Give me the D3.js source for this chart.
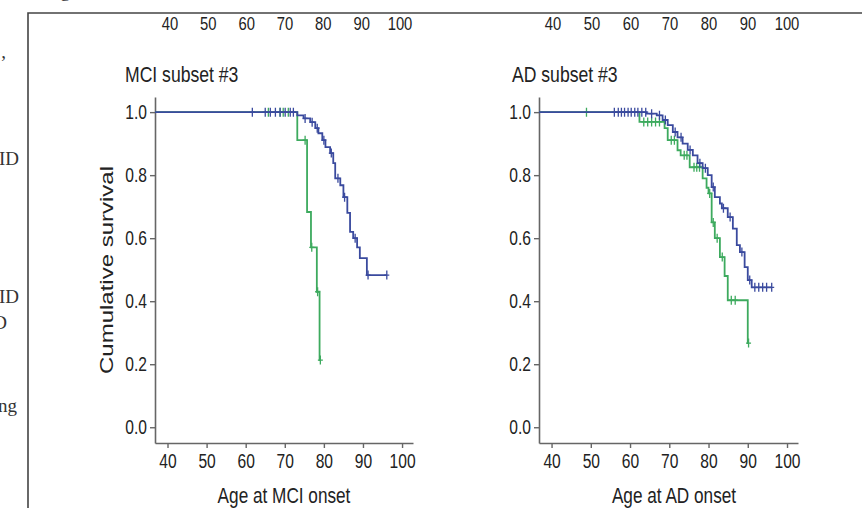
<!DOCTYPE html>
<html>
<head>
<meta charset="utf-8">
<script src="https://cdn.jsdelivr.net/npm/d3@7"></script>
<style>
  html, body { margin: 0; padding: 0; background: #fff; }
  svg { display: block; }
  text { font-family: "Liberation Sans", Arial, sans-serif; fill: #222; }
  .frag { font-family: "Liberation Serif", "Times New Roman", serif; fill: #333; }
</style>
</head>
<body>
<div id="chart"></div>
<script>
// Chart data
const ageTicks = [40, 50, 60, 70, 80, 90, 100];
const survTicks = [0.0, 0.2, 0.4, 0.6, 0.8, 1.0];

// MCI subset #3 : [age, survival after the drop]
const mciBlueDrops = [
  [73.2, 0.99], [74.8, 0.98], [76.5, 0.968], [77.8, 0.949], [78.6, 0.933],
  [79.6, 0.911], [80.4, 0.889], [81.6, 0.87], [82.4, 0.838], [82.9, 0.79],
  [84.2, 0.768], [85.0, 0.73], [86.0, 0.68], [86.7, 0.62], [87.5, 0.60],
  [88.5, 0.571], [89.2, 0.537], [91.0, 0.483]
];
const mciBlueEnd = 96.1;
const mciBlueCensored = [61.7, 65, 66.3, 67.6, 68.8, 70.1, 71.4, 72.2, 75.2, 77,
  78.3, 80, 81.9, 83.6, 85.3, 88, 91.3, 96.1];

const mciGreenDrops = [[73.2, 0.911], [75.7, 0.683], [76.7, 0.571], [78.2, 0.43], [78.9, 0.213]];
const mciGreenEnd = 79.2;
const mciGreenCensored = [65.8, 68.8, 69.6, 70.9, 75.2, 76.9, 78.4, 79.1];

// AD subset #3
const adBlueDrops = [
  [64.2, 0.995], [66.8, 0.99], [68.3, 0.975], [69.6, 0.959], [70.9, 0.937],
  [72.1, 0.92], [73.4, 0.90], [74.7, 0.88], [76.0, 0.863], [77.2, 0.838],
  [78.5, 0.822], [79.8, 0.80], [80.8, 0.762], [81.6, 0.73], [82.9, 0.71],
  [83.4, 0.695], [84.9, 0.667], [86.2, 0.63], [87.2, 0.578], [88.0, 0.556],
  [89.2, 0.508], [90.0, 0.467], [91.0, 0.444]
];
const adBlueEnd = 96.1;
const adBlueCensored = [56, 57, 57.8, 58.6, 59.5, 60.3, 61.2, 62, 63, 64, 65.5,
  67.5, 69, 71.5, 73, 75.3, 77.8, 79.2, 81.2, 83.8, 85.5, 88.5, 90.5, 91.8,
  92.8, 93.8, 94.8, 96.1];

const adGreenDrops = [
  [62.4, 0.969], [68.8, 0.949], [69.6, 0.911], [72.1, 0.879], [72.9, 0.863],
  [75.2, 0.825], [78.5, 0.79], [79.5, 0.76], [80.0, 0.742], [80.8, 0.65],
  [81.6, 0.60], [82.9, 0.54], [84.1, 0.48], [84.9, 0.403], [90.0, 0.267]
];
const adGreenEnd = 90.3;
const adGreenCensored = [48.9, 63.5, 64.5, 65.5, 66.5, 67.5, 70.5, 71.3, 73.8,
  74.5, 76.3, 77, 77.7, 80.3, 81.2, 82.2, 83.5, 85.8, 86.8, 90.2];

// Layout
const WIDTH = 862;
const HEIGHT = 508;
const BLUE = "#3a4a9e";
const GREEN = "#3daa5e";
const AXIS = "#666";
const SQUEEZE = "scale(0.8,1)";

const svg = d3.select("#chart")
  .append("svg")
  .attr("width", WIDTH)
  .attr("height", HEIGHT);

svg.append("rect").attr("width", WIDTH).attr("height", HEIGHT).attr("fill", "#fff");

// page frame cut by the crop
svg.append("path")
  .attr("d", `M28,${HEIGHT} V13 H${WIDTH}`)
  .attr("fill", "none")
  .attr("stroke", "#444")
  .attr("stroke-width", 1.6);

// fragments of the page text left of the frame
const fragments = [
  { t: "g", x: 70, y: -3, a: "end" },
  { t: ",", x: 6, y: 58, a: "end" },
  { t: "ID", x: 19, y: 165, a: "end" },
  { t: "ID", x: 19, y: 303, a: "end" },
  { t: "D", x: 7, y: 329, a: "end" },
  { t: "ng", x: 17, y: 412, a: "end" }
];
svg.append("g").selectAll("text")
  .data(fragments)
  .join("text")
  .attr("class", "frag")
  .attr("x", (d) => d.x)
  .attr("y", (d) => d.y)
  .attr("text-anchor", (d) => d.a)
  .attr("font-size", 19)
  .text((d) => d.t);

const y = d3.scaleLinear().domain([-0.05, 1.048]).range([443, 97]);

function survivalAt(drops, age) {
  let s = 1;
  for (const [a, v] of drops) if (a <= age) s = v;
  return s;
}

function drawPanel(opts) {
  const x = d3.scaleLinear().domain([36.8, 102.8]).range(opts.range);
  const g = svg.append("g");

  // ticks from the plot row above (only labels remain)
  const xTop = d3.scaleLinear().domain([40, 100]).range(opts.topRange);
  g.append("g").selectAll("text")
    .data(ageTicks)
    .join("text")
    .attr("transform", (d) => `translate(${xTop(d)},30) ${SQUEEZE}`)
    .attr("text-anchor", "middle")
    .attr("font-size", 18.5)
    .text((d) => d);

  // title
  g.append("text")
    .attr("transform", `translate(${opts.titleX},82) ${SQUEEZE}`)
    .attr("font-size", 22)
    .text(opts.title);

  // x axis
  const xAxis = g.append("g")
    .attr("transform", `translate(0,${y.range()[0]})`)
    .call(d3.axisBottom(x).tickValues(ageTicks).tickSize(5).tickPadding(6).tickSizeOuter(0));
  xAxis.selectAll("text").attr("transform", SQUEEZE).attr("font-size", 19.5).attr("fill", "#222");

  // y axis
  const yAxis = g.append("g")
    .attr("transform", `translate(${opts.range[0]},0)`)
    .call(d3.axisLeft(y).tickValues(survTicks).tickFormat(d3.format(".1f")).tickSize(5).tickPadding(5).tickSizeOuter(0));
  yAxis.selectAll("text").attr("transform", SQUEEZE).attr("font-size", 19.5).attr("fill", "#222");

  [xAxis, yAxis].forEach((ax) => {
    ax.attr("font-family", null);
    ax.select(".domain").attr("stroke", AXIS).attr("stroke-width", 1.6);
    ax.selectAll(".tick line").attr("stroke", AXIS).attr("stroke-width", 1.4);
  });

  // axis titles
  g.append("text")
    .attr("transform", `translate(${opts.axisTitleX},503) ${SQUEEZE}`)
    .attr("text-anchor", "middle")
    .attr("font-size", 21.5)
    .text(opts.axisTitle);

  if (opts.yTitle) {
    g.append("text")
      .attr("transform", `translate(113,270) ${SQUEEZE} rotate(-90)`)
      .attr("text-anchor", "middle")
      .attr("font-size", 24)
      .text(opts.yTitle);
  }

  // survival curves
  const line = d3.line()
    .x((d) => x(d[0]))
    .y((d) => y(d[1]))
    .curve(d3.curveStepAfter);

  opts.series.forEach((s) => {
    const pts = [[x.domain()[0], 1], ...s.drops, [s.end, s.drops[s.drops.length - 1][1]]];
    g.append("path")
      .attr("d", line(pts))
      .attr("fill", "none")
      .attr("stroke", s.color)
      .attr("stroke-width", 1.8);

    g.append("g").selectAll("path")
      .data(s.censored)
      .join("path")
      .attr("d", (a) => {
        const cx = x(a);
        const cy = y(survivalAt(s.drops, a));
        return `M${cx},${cy - 4.5}V${cy + 4.5}M${cx - 2.5},${cy}H${cx + 2.5}`;
      })
      .attr("stroke", s.color)
      .attr("stroke-width", 1.3)
      .attr("fill", "none");
  });
}

drawPanel({
  range: [155, 413],
  topRange: [170, 400],
  title: "MCI subset #3",
  titleX: 125,
  axisTitle: "Age at MCI onset",
  axisTitleX: 284,
  yTitle: "Cumulative survival",
  series: [
    { drops: mciGreenDrops, end: mciGreenEnd, censored: mciGreenCensored, color: GREEN },
    { drops: mciBlueDrops, end: mciBlueEnd, censored: mciBlueCensored, color: BLUE }
  ]
});

drawPanel({
  range: [539, 798],
  topRange: [553, 787],
  title: "AD subset #3",
  titleX: 512,
  axisTitle: "Age at AD onset",
  axisTitleX: 674,
  series: [
    { drops: adGreenDrops, end: adGreenEnd, censored: adGreenCensored, color: GREEN },
    { drops: adBlueDrops, end: adBlueEnd, censored: adBlueCensored, color: BLUE }
  ]
});
</script>
</body>
</html>
